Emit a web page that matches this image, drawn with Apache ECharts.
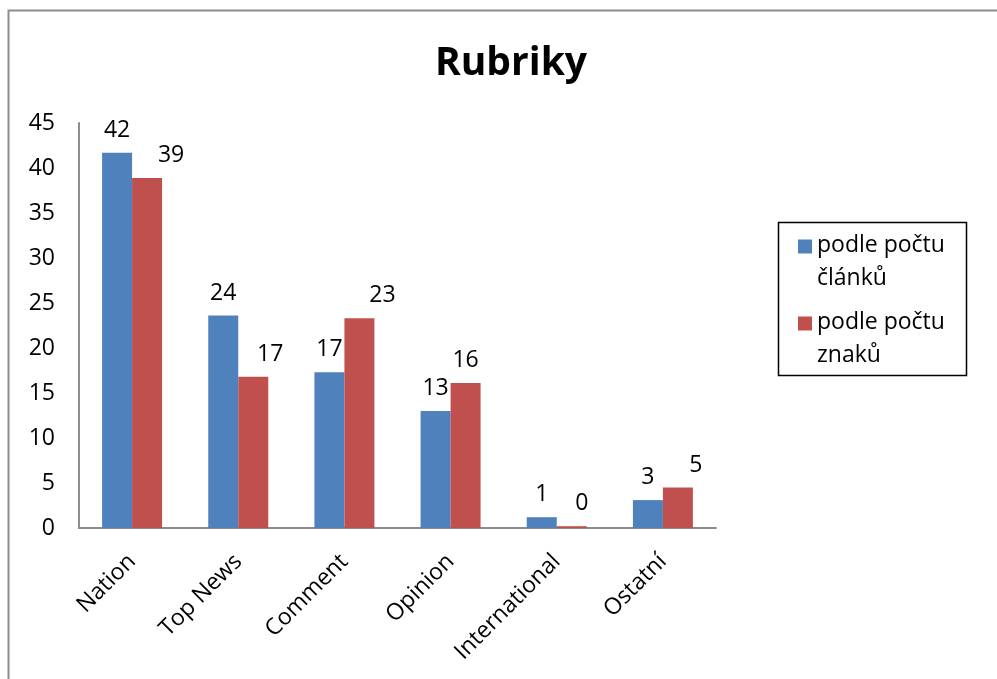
<!DOCTYPE html>
<html>
<head>
<meta charset="utf-8">
<script src="https://cdn.jsdelivr.net/npm/echarts@6/dist/echarts.min.js"></script>
<style>
  html, body { margin: 0; padding: 0; background: #fff; }
  #chart { width: 997px; height: 679px; }
</style>
</head>
<body>
<div id="chart"></div>
<script>
const categories = ['Nation', 'Top News', 'Comment', 'Opinion', 'International', 'Ostatní']
const byArticles = [41.7, 23.6, 17.3, 13.0, 1.2, 3.1]
const byChars = [38.9, 16.8, 23.3, 16.1, 0.2, 4.5]
const seriesNames = ['podle počtu článků', 'podle počtu znaků']
const yTicks = [0, 5, 10, 15, 20, 25, 30, 35, 40, 45]

// excel pushes some of the red labels sideways
const redLabelShift = [24, 17, 23, 0, 10, 18]

const font = '"Open Sans", "Noto Sans", sans-serif'
const fs = 23

const chart = echarts.init(document.getElementById('chart'))

const valueLabel = {
  show: true,
  position: 'top',
  distance: 11,
  fontFamily: font,
  fontSize: fs,
  color: '#000',
  formatter: p => Math.round(p.value)
}

const option = {
  animation: false,
  backgroundColor: '#fff',
  color: ['#4F81BD', '#C0504D'],
  title: {
    text: 'Rubriky',
    left: 506,
    textAlign: 'center',
    top: 39,
    textStyle: {
      fontFamily: font,
      fontWeight: 'bold',
      fontSize: 39,
      color: '#000'
    }
  },
  graphic: [
    {
      type: 'polyline',
      shape: { points: [[8.5, 700], [8.5, 10.5], [1000, 10.5]] },
      style: { stroke: '#8c8c8c', lineWidth: 2, fill: null }
    },
    {
      type: 'rect',
      shape: { x: 778.5, y: 222.5, width: 188, height: 153 },
      style: { stroke: '#000', lineWidth: 1.5, fill: null }
    }
  ],
  legend: {
    orient: 'vertical',
    left: 798,
    top: 229,
    padding: 0,
    itemGap: 11,
    itemWidth: 14,
    itemHeight: 45,
    // square sits at the top so it lines up with the first text line
    icon: 'path://M0,0h14v14h-14z M0,45L14,45',
    data: seriesNames,
    formatter: name => name.replace('počtu ', 'počtu\n'),
    textStyle: {
      fontFamily: font,
      fontSize: 23,
      lineHeight: 33,
      color: '#000'
    }
  },
  grid: {
    left: 79,
    right: 281,
    top: 123,
    bottom: 151,
    containLabel: false
  },
  xAxis: {
    type: 'category',
    data: categories,
    axisLine: { lineStyle: { color: '#8c8c8c', width: 2 } },
    axisTick: { show: false },
    axisLabel: {
      rotate: 45,
      interval: 0,
      margin: 30,
      fontFamily: font,
      fontSize: 23,
      color: '#000'
    }
  },
  yAxis: {
    type: 'value',
    min: yTicks[0],
    max: yTicks[yTicks.length - 1],
    interval: 5,
    axisLine: { show: true, lineStyle: { color: '#8c8c8c', width: 2 } },
    axisTick: { show: false },
    splitLine: { show: false },
    axisLabel: {
      margin: 24,
      fontFamily: font,
      fontSize: fs,
      color: '#000'
    }
  },
  series: [
    {
      name: seriesNames[0],
      type: 'bar',
      barWidth: 30,
      barGap: '0%',
      data: byArticles,
      label: valueLabel
    },
    {
      name: seriesNames[1],
      type: 'bar',
      barWidth: 30,
      data: byChars.map((v, i) => ({
        value: v,
        label: { offset: [redLabelShift[i], 0] }
      })),
      label: valueLabel
    }
  ]
}

chart.setOption(option)
</script>
</body>
</html>
